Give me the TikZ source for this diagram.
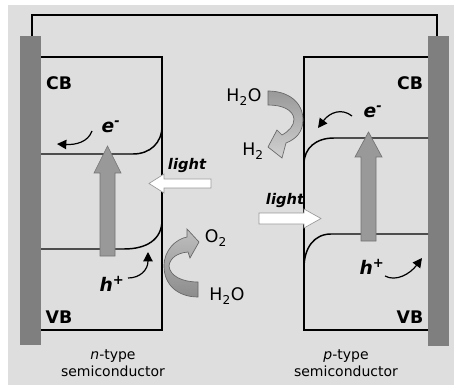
\documentclass[tikz,border=0pt]{standalone}
\usepackage{fontspec}
\setmainfont{DejaVu Sans}
\usetikzlibrary{arrows.meta}
\definecolor{bggray}{HTML}{DEDEDE}
\definecolor{electrode}{HTML}{7F7F7F}
\definecolor{bandarrow}{HTML}{999999}

\begin{document}
\begin{tikzpicture}[x=0.75pt,y=-0.75pt,
  band/.style={line width=1.1pt},
  lbl/.style={font=\fontsize{13}{15}\selectfont\bfseries},
  chem/.style={font=\fontsize{13}{15}\selectfont},
  carrier/.style={font=\fontsize{14}{16}\selectfont\bfseries\itshape},
  lightlbl/.style={font=\fontsize{11}{13}\selectfont\bfseries\itshape},
  caption/.style={font=\fontsize{10.5}{12.5}\selectfont,align=center},
  hop/.style={-{Triangle[length=7pt,width=7pt]},line width=0.9pt}]
  \useasboundingbox (0,0) rectangle (454,385);
  \fill[white] (0,0) rectangle (454,385);
  \fill[bggray] (8,5) rectangle (454,385);
  % external wire and electrodes
  \draw[line width=1.4pt] (32,40) -- (32,15) -- (437,15) -- (437,40);
  \fill[electrode] (20,36) rectangle (41,345);
  \fill[electrode] (428,36) rectangle (449,346);
  % n-type box with band bending
  \draw[band] (41,57) -- (162,57) -- (162,330) -- (41,330);
  \draw[band] (41,154) -- (133,154) .. controls (150,154) and (162,143) .. (162,126);
  \draw[band] (41,249) -- (124,249) .. controls (146,249) and (162,240) .. (162,220);
  % p-type box with band bending
  \draw[band] (428,57) -- (304,57) -- (304,330) -- (428,330);
  \draw[band] (428,138) -- (334,138) .. controls (316,138) and (304,148) .. (304,164);
  \draw[band] (428,234) -- (331,234) .. controls (314,234) and (304,248) .. (304,268);
  % excitation arrows (CB <- VB)
  \foreach \cx/\tip/\base/\bot in {107.5/146/173/256, 368.5/132/157/241} {
    \filldraw[fill=bandarrow,draw=black!55,line width=0.5pt]
      (\cx-7.5,\bot) -- (\cx-7.5,\base) -- (\cx-13.5,\base) -- (\cx,\tip)
      -- (\cx+13.5,\base) -- (\cx+7.5,\base) -- (\cx+7.5,\bot) -- cycle;
  }
  % light arrows
  \filldraw[fill=white,draw=black!40,line width=0.5pt]
    (211,179) -- (164,179) -- (164,174) -- (149,183.5) -- (164,193) -- (164,188) -- (211,188) -- cycle;
  \filldraw[fill=white,draw=black!40,line width=0.5pt]
    (259,213) -- (304,213) -- (304,209) -- (321,218.5) -- (304,228) -- (304,224) -- (259,224) -- cycle;
  \node[lightlbl] (lightn) at (187,166) {light};
  \node[lightlbl] (lightp) at (285,201) {light};
  % band labels
  \node[lbl] (cbn) at (59,83) {CB};
  \node[lbl] (vbn) at (59,317) {VB};
  \node[lbl] (cbp) at (410,83) {CB};
  \node[lbl] (vbp) at (410,317) {VB};
  % carriers
  \node[carrier] (en) at (111,127) {e\textsuperscript{-}};
  \node[carrier] (ep) at (373,112) {e\textsuperscript{-}};
  \node[carrier] (hn) at (112,284) {h\textsuperscript{+}};
  \node[carrier] (hp) at (372,267) {h\textsuperscript{+}};
  \coordinate (en1) at (92,131);
  \coordinate (en2) at (57,144);
  \coordinate (ep1) at (352,116);
  \coordinate (ep2) at (318,128);
  \coordinate (hn1) at (128,278);
  \coordinate (hn2) at (148,252);
  \coordinate (hp1) at (385,276);
  \coordinate (hp2) at (422,258);
  \draw[hop] (en1) .. controls (88,142) and (76,145) .. (en2);
  \draw[hop] (ep1) .. controls (342,108) and (330,112) .. (ep2);
  \draw[hop] (hn1) .. controls (140,278) and (148,270) .. (hn2);
  \draw[hop] (hp1) .. controls (396,282) and (410,274) .. (hp2);
  % water oxidation at n-type
  \shade[top color=black!25,bottom color=black!45,draw=black!60,line width=0.5pt]
    (198,297) .. controls (178,297) and (164,285) .. (164,266)
    .. controls (164,250) and (176,239) .. (187,237)
    -- (187,229) -- (199,242) -- (190,258) -- (188,252)
    .. controls (177,253) and (170,258) .. (169,266)
    .. controls (170,276) and (182,282) .. (198,282) -- cycle;
  \node[chem] (o2) at (216,238) {O\textsubscript{2}};
  \node[chem] (h2on) at (227,296) {H\textsubscript{2}O};
  % water reduction at p-type
  \shade[top color=black!40,bottom color=black!18,draw=black!60,line width=0.5pt]
    (268,91) .. controls (288,91) and (303,102) .. (303,120)
    .. controls (303,132) and (296,139) .. (286,143)
    -- (282,158) -- (268,147) -- (277,130) -- (282,135)
    .. controls (289,131) and (294,126) .. (294,119)
    .. controls (293,110) and (283,105) .. (268,105) -- cycle;
  \node[chem] (h2op) at (244,97) {H\textsubscript{2}O};
  \node[chem] (h2) at (253,151) {H\textsubscript{2}};
  % captions
  \node[caption] (capn) at (113,363) {\textit{n}-type\\semiconductor};
  \node[caption] (capp) at (346,363) {\textit{p}-type\\semiconductor};
\end{tikzpicture}
\end{document}
